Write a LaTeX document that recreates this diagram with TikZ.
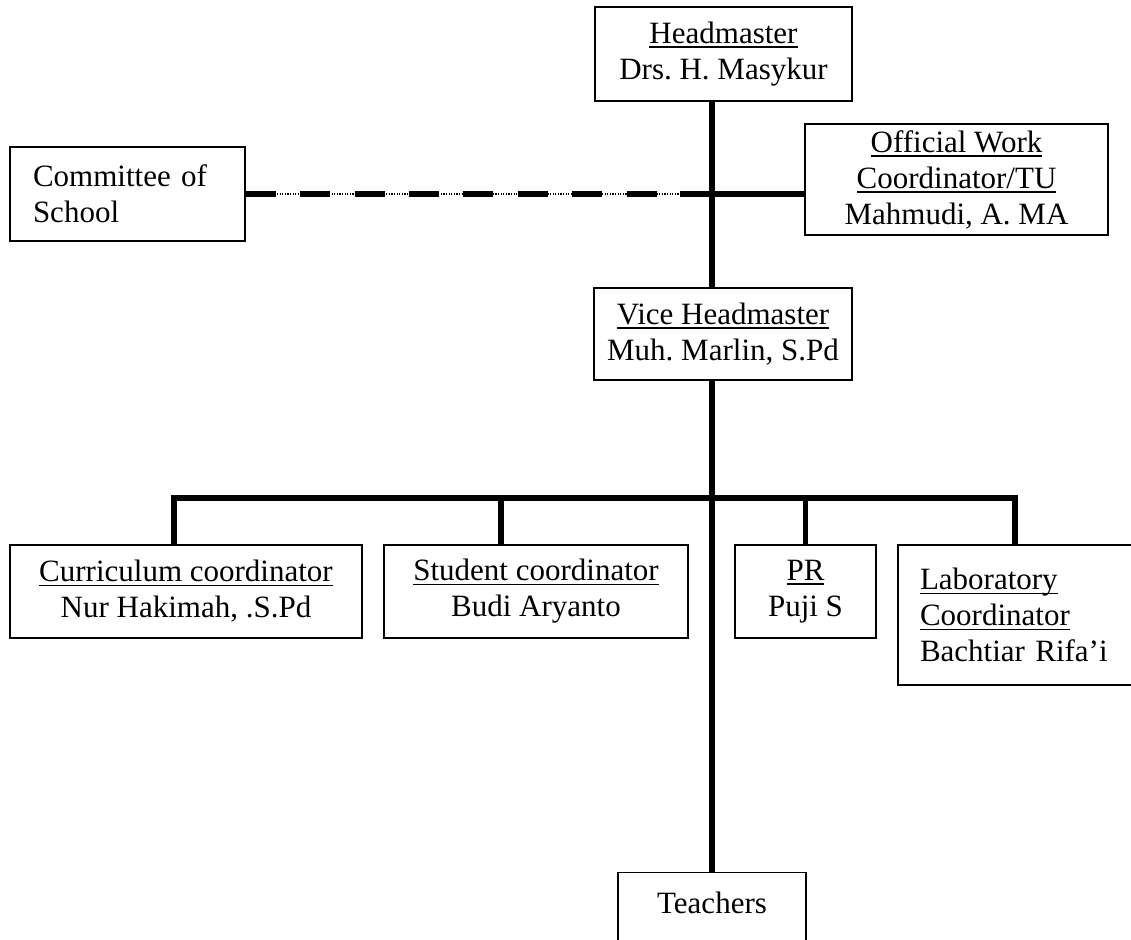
\documentclass[tikz,border=0pt]{standalone}
\usepackage{fontspec}
\setmainfont{Liberation Serif}
\frenchspacing
\newcommand\utext[1]{\leavevmode\setbox0\hbox{#1}\rlap{\rule[-4.5pt]{\wd0}{1.5pt}}\box0}
\tikzset{
  box/.style={draw, line width=1.4pt, fill=white, align=center,
    font=\fontsize{31}{36}\selectfont\frenchspacing, inner sep=0pt},
  link/.style={line width=6.5pt},
}
\begin{document}
\begin{tikzpicture}[x=1pt,y=-1pt]
  \useasboundingbox (0,0) rectangle (1131,939);
  \clip (0,0) rectangle (1131,939);
  \draw
    (723.5,54) node[box, minimum width=257, minimum height=94] (head){\utext{Headmaster}\\Drs. H. Masykur}
    (127.5,194) node[box, align=left, text width=189pt, inner xsep=23pt, minimum height=94] (committee){Committee of\\School}
    (956.5,179.5) node[box, minimum width=303, minimum height=111] (official){\utext{Official Work}\\\utext{Coordinator/TU}\\Mahmudi, A. MA}
    (723,334) node[box, minimum width=258, minimum height=92] (vice){\utext{Vice Headmaster}\\Muh. Marlin, S.Pd}
    (186,591.5) node[box, minimum width=352, minimum height=93] (curr){\utext{Curriculum coordinator}\\Nur Hakimah, .S.Pd}
    (536,591.5) node[box, minimum width=304, minimum height=93] (student){\utext{Student coordinator}\\Budi Aryanto}
    (805.5,591.5) node[box, minimum width=141, minimum height=93] (pr){\utext{PR}\\Puji S}
    (1020,615) node[box, align=left, text width=200pt, inner xsep=22pt, minimum height=140] (lab){\utext{Laboratory}\\\utext{Coordinator}\\Bachtiar Rifa’i}
    (712,872) node[box, anchor=north, minimum width=188, inner ysep=19pt, text depth=40pt] (teachers){Teachers};
  \coordinate (bar) at (713,498);
  \coordinate (gap) at (680,194);
  \begin{scope}[link]
    \draw (head.south -| teachers.north) -- (vice.north -| teachers.north);
    \draw (vice.south -| teachers.north) -- (teachers.north);
    \draw ([xshift=-12pt]curr.north) |- ([xshift=-5pt]lab.north |- bar) -- ([xshift=-5pt]lab.north);
    \draw ([xshift=-35pt]student.north) -- ([xshift=-35pt]student.north |- bar);
    \draw[line width=4.5pt] (pr.north) -- (pr.north |- bar);
    \draw (gap) -- (gap -| official.west);
    \draw[dash pattern=on 30pt off 24.4pt] (committee.east) -- (gap);
  \end{scope}
  \draw[line width=1.3pt, dash pattern=on 1.3pt off 1.3pt] (committee.east) -- (gap);
\end{tikzpicture}
\end{document}
